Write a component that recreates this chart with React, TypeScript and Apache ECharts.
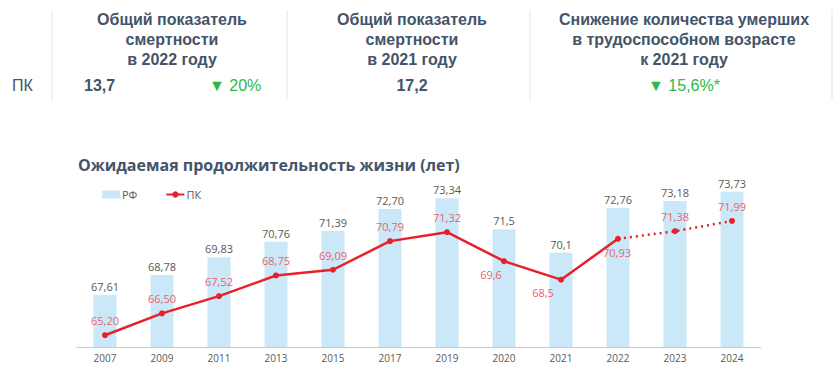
import React, { useEffect, useRef } from "react";
import * as echarts from "echarts";

const years = ["2007", "2009", "2011", "2013", "2015", "2017", "2019", "2020", "2021", "2022", "2023", "2024"];
const rfValues = [67.61, 68.78, 69.83, 70.76, 71.39, 72.7, 73.34, 71.5, 70.1, 72.76, 73.18, 73.73];
const rfLabels = ["67,61", "68,78", "69,83", "70,76", "71,39", "72,70", "73,34", "71,5", "70,1", "72,76", "73,18", "73,73"];
const pkValues = [65.2, 66.5, 67.52, 68.75, 69.09, 70.79, 71.32, 69.6, 68.5, 70.93, 71.38, 71.99];
const pkLabels = ["65,20", "66,50", "67,52", "68,75", "69,09", "70,79", "71,32", "69,6", "68,5", "70,93", "71,38", "71,99"];
const solidUntil = 9; // index of 2022, last point of solid segment

const headerTitles = [
  ["Общий показатель", "смертности", "в 2022 году"],
  ["Общий показатель", "смертности", "в 2021 году"],
  ["Снижение количества умерших", "в трудоспособном возрасте", "к 2021 году"],
];
const headerValues = ["13,7", "17,2", ""];
const headerChanges = ["▼ 20%", "", "▼ 15,6%*"];
const rowLabel = "ПК";
const chartTitle = "Ожидаемая продолжительность жизни (лет)";

const DARK = "#44546a";
const GREEN = "#2db84b";
const RED = "#e8202a";
const RED_LABEL = "#e8636e";
const GRAY = "#595959";
const BAR = "#cbe8f8";
const HFONT = "'Liberation Sans', Arial, sans-serif";
const CFONT = "'Open Sans', 'Noto Sans', sans-serif";

// label offsets for PK labels placed below the point
const pkLabelPlacement: Record<number, [number, number]> = {
  7: [-13, 0],
  8: [-18, -1],
  9: [-1, 0],
};

export default function App() {
  const ref = useRef<HTMLDivElement>(null);
  useEffect(() => {
    document.body.style.margin = "0";
    const chart = echarts.init(ref.current!, undefined, { renderer: "svg" });

    const colCenters = [172, 412, 684];
    const graphics: any[] = [];
    [52, 287, 530, 832].forEach((x) =>
      graphics.push({
        type: "line",
        shape: { x1: x, y1: 10, x2: x, y2: 100 },
        style: { stroke: "#e1e6ec", lineWidth: 1 },
      })
    );
    headerTitles.forEach((lines, i) => {
      lines.forEach((t, j) =>
        graphics.push({
          type: "text",
          x: colCenters[i],
          y: 19 + j * 20,
          style: {
            text: t,
            font: `bold 16px ${HFONT}`,
            fill: DARK,
            textAlign: "center",
            textVerticalAlign: "middle",
          },
        })
      );
    });
    graphics.push({
      type: "text",
      x: 12,
      y: 85,
      style: { text: rowLabel, font: `16px ${HFONT}`, fill: DARK, textVerticalAlign: "middle" },
    });
    graphics.push({
      type: "text",
      x: 84,
      y: 85,
      style: { text: headerValues[0], font: `bold 16px ${HFONT}`, fill: DARK, textVerticalAlign: "middle" },
    });
    graphics.push({
      type: "text",
      x: 209,
      y: 85,
      style: { text: headerChanges[0], font: `16px ${HFONT}`, fill: GREEN, textVerticalAlign: "middle" },
    });
    graphics.push({
      type: "text",
      x: colCenters[1],
      y: 85,
      style: {
        text: headerValues[1],
        font: `bold 16px ${HFONT}`,
        fill: DARK,
        textAlign: "center",
        textVerticalAlign: "middle",
      },
    });
    graphics.push({
      type: "text",
      x: colCenters[2],
      y: 85,
      style: {
        text: headerChanges[2],
        font: `16px ${HFONT}`,
        fill: GREEN,
        textAlign: "center",
        textVerticalAlign: "middle",
      },
    });
    graphics.push({
      type: "text",
      x: 78,
      y: 165,
      style: { text: chartTitle, font: `bold 16px ${CFONT}`, fill: DARK, textVerticalAlign: "middle" },
    });

    const solidData = pkValues.map((v, i) => (i <= solidUntil ? v : null));
    const dottedData = pkValues.map((v, i) => (i >= solidUntil ? v : null));

    const pkLabelData = (arr: (number | null)[]) =>
      arr.map((v, i) => {
        if (v === null) return null;
        const off = pkLabelPlacement[i];
        return {
          value: v,
          label: off
            ? { show: true, position: "bottom", offset: off, formatter: pkLabels[i] }
            : { show: true, position: "top", distance: 6, formatter: pkLabels[i] },
        };
      });

    chart.setOption({
      animation: false,
      textStyle: { fontFamily: CFONT },
      graphic: graphics,
      legend: {
        left: 97,
        top: 184,
        itemWidth: 18,
        itemHeight: 8,
        itemGap: 28,
        textStyle: { color: GRAY, fontSize: 11, fontFamily: CFONT, padding: [0, 0, 0, -3] },
        data: [
          { name: "РФ", icon: "rect" },
          { name: "ПК" },
        ],
      },
      grid: { left: 76.5, right: 74.5, top: 178.7, bottom: 37 },
      xAxis: {
        type: "category",
        data: years,
        axisLine: { lineStyle: { color: "#c8c8c8" } },
        axisTick: { show: false },
        axisLabel: { color: GRAY, fontSize: 10, margin: 6, fontFamily: CFONT },
      },
      yAxis: {
        type: "value",
        min: 64.5,
        max: 74.5,
        show: false,
        splitLine: { show: false },
      },
      series: [
        {
          name: "РФ",
          type: "bar",
          data: rfValues,
          barWidth: 23,
          itemStyle: { color: BAR },
          label: {
            show: true,
            position: "top",
            distance: 3,
            color: GRAY,
            fontSize: 11,
            formatter: (p: any) => rfLabels[p.dataIndex],
          },
          z: 1,
        },
        {
          name: "ПК",
          type: "line",
          data: pkLabelData(solidData),
          connectNulls: false,
          symbol: "circle",
          symbolSize: 6,
          lineStyle: { color: RED, width: 2.5 },
          itemStyle: { color: RED },
          label: { color: RED_LABEL, fontSize: 11 },
          z: 3,
        },
        {
          name: "ПК",
          type: "line",
          data: pkLabelData(dottedData.map((v, i) => (i === solidUntil ? null : v))).map((d, i) =>
            i === solidUntil ? { value: pkValues[i], symbolSize: 0, label: { show: false } } : d
          ),
          connectNulls: false,
          symbol: "circle",
          symbolSize: 6,
          lineStyle: { color: RED, width: 2.5, type: [2, 4] },
          itemStyle: { color: RED },
          label: { color: RED_LABEL, fontSize: 11 },
          z: 2,
        },
      ],
    });
    return () => chart.dispose();
  }, []);
  return <div ref={ref} style={{ width: 835, height: 384, position: "absolute", left: 0, top: 0 }} />;
}
